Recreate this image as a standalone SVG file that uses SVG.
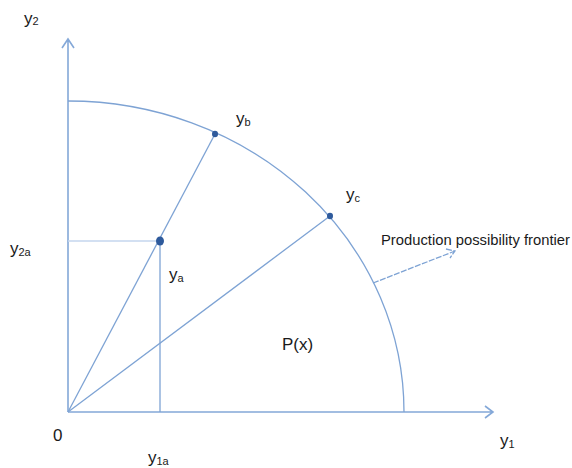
<svg xmlns="http://www.w3.org/2000/svg" width="572" height="468" viewBox="0 0 572 468">
<style>
.ln{stroke:#7ea3d4;stroke-width:1.3;fill:none}
.ax{stroke:#84a8d8;stroke-width:1.6;fill:none}
.lt{stroke:#c5d6ee;stroke-width:1.3;fill:none}
.dot{fill:#2e5a9c}
text{font-family:"Liberation Sans",Arial,sans-serif;fill:#1a1a1a}
.lb{font-size:17px}
.sb{font-size:11px}
</style>
<rect width="572" height="468" fill="#ffffff"/>
<g id="connectors">
<path class="ax" d="M68,412 V39 M62,48 L68,39 L74,48"/>
<path class="ax" d="M68,412 H493 M485,406 L493,412 L485,418"/>
<path id="frontier" class="ln" d="M68,101 A336,311 0 0 1 404,412"/>
<path class="lt" d="M68,241 H160"/>
<path class="ln" d="M160,241 V412"/>
<path class="ln" d="M68,412 L215,134"/>
<path class="ln" d="M68,412 L330,216"/>
<path class="ln" d="M373,283 L455,251 M446,249 L455,251 L450,258" stroke-dasharray="6,1.5"/>
</g>
<g id="ya"><ellipse class="dot" cx="160" cy="241" rx="4" ry="4.5"/><text class="lb" x="169" y="280">y<tspan class="sb" dy="2">a</tspan></text></g>
<g id="yb"><ellipse class="dot" cx="215" cy="134" rx="3" ry="3.3"/><text class="lb" x="236" y="124">y<tspan class="sb" dy="2">b</tspan></text></g>
<g id="yc"><ellipse class="dot" cx="330" cy="216" rx="3" ry="3.3"/><text class="lb" x="346" y="200">y<tspan class="sb" dy="2">c</tspan></text></g>
<g id="labels">
<text class="lb" x="24" y="24">y<tspan class="sb" dy="1">2</tspan></text>
<text class="lb" x="10" y="254">y<tspan class="sb" dy="2">2a</tspan></text>
<text class="lb" x="53" y="441">0</text>
<text class="lb" x="148" y="463">y<tspan class="sb" dy="2">1a</tspan></text>
<text class="lb" x="500" y="446">y<tspan class="sb" dy="2">1</tspan></text>
<text class="lb" x="282" y="350">P(x)</text>
<text x="381" y="245" font-size="14" textLength="189" lengthAdjust="spacingAndGlyphs">Production possibility frontier</text>
</g>
</svg>
